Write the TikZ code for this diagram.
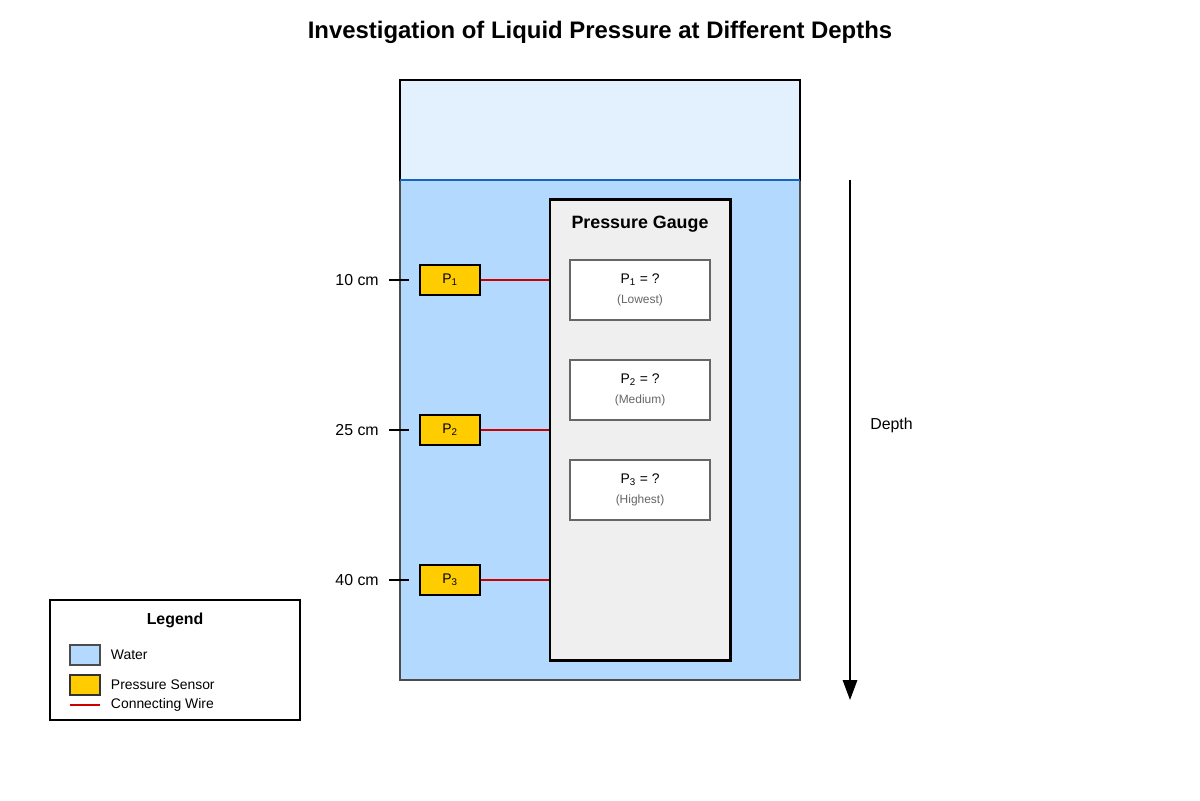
\documentclass[tikz,border=0pt]{standalone}
\usepackage{fontspec}
\setmainfont{Liberation Sans}
\usepackage{tikz}
\usetikzlibrary{arrows.meta}

\definecolor{airblue}{HTML}{E3F0FD}
\definecolor{waterblue}{HTML}{B3D9FF}
\definecolor{surfblue}{HTML}{1565C0}
\definecolor{gaugegray}{HTML}{EFEFEF}
\definecolor{sensoryellow}{HTML}{FFCC00}
\definecolor{wirered}{HTML}{CC0000}
\definecolor{notegray}{HTML}{666666}

\begin{document}
\begin{tikzpicture}[x=0.025cm,y=-0.025cm,
    sensor/.style={draw=black,line width=1.4pt,fill=sensoryellow,
        minimum width=1.5cm,minimum height=0.75cm,inner sep=0pt,font=\fontsize{9.9}{11}\selectfont},
    readout/.style={draw=notegray,line width=1pt,fill=white,
        minimum width=3.5cm,minimum height=1.5cm,inner sep=0pt,align=center,
        font=\fontsize{9.9}{14}\selectfont},
    wire/.style={wirered,line width=1.4pt},
    tick/.style={black,line width=1.4pt},
    depthlabel/.style={anchor=east,inner sep=0pt,font=\fontsize{11.3}{13}\selectfont}]
    \useasboundingbox (0,0) rectangle (1200,800);

    % title
    \node[font=\bfseries\fontsize{17}{20}\selectfont] (title) at (600,32)
        {Investigation of Liquid Pressure at Different Depths};

    % tank: water, then air above it
    \filldraw[fill=waterblue,draw=black!70,line width=0.8pt] (400,180) rectangle (800,680);
    \filldraw[fill=airblue,draw=black,line width=2.1pt] (400,80) rectangle (800,180);
    \draw[surfblue,line width=1.4pt] (400,180) -- (800,180);

    % gauge
    \node[draw=black,line width=2.1pt,fill=gaugegray,minimum width=4.5cm,
        minimum height=11.5cm,inner sep=0pt] (gauge) at (640,430) {};
    \node[font=\bfseries\fontsize{12.7}{15}\selectfont] (gaugetitle) at (640,224) {Pressure Gauge};
    \node[readout] (r1) at (640,290) {P\textsubscript{1} = ?\\{\color{notegray}\fontsize{8.5}{10}\selectfont(Lowest)}};
    \node[readout] (r2) at (640,390) {P\textsubscript{2} = ?\\{\color{notegray}\fontsize{8.5}{10}\selectfont(Medium)}};
    \node[readout] (r3) at (640,490) {P\textsubscript{3} = ?\\{\color{notegray}\fontsize{8.5}{10}\selectfont(Highest)}};

    % sensors, depth ticks and wires
    \node[sensor] (s1) at (450,280) {P\textsubscript{1}};
    \node[sensor] (s2) at (450,430) {P\textsubscript{2}};
    \node[sensor] (s3) at (450,580) {P\textsubscript{3}};
    \foreach \i/\d in {1/10,2/25,3/40} {
        \coordinate (t\i) at ([xshift=-0.25cm]s\i.west);
        \draw[tick] (t\i) -- ([xshift=-0.75cm]s\i.west);
        \node[depthlabel] (d\i) at ([xshift=-0.75cm]t\i) {\d\ cm};
        \draw[wire] (s\i.east) -- (s\i.east -| gauge.west);
    }

    % depth arrow
    \coordinate (dtop) at (850,180);
    \coordinate (dbot) at (850,700);
    \draw[line width=1.4pt,-{Triangle[length=0.5cm,width=0.36cm]}] (dtop) -- (dbot);
    \node[anchor=west,inner sep=0pt,font=\fontsize{11.3}{13}\selectfont] (depth) at (870,425) {Depth};

    % legend
    \node[draw=black,line width=1.4pt,fill=white,minimum width=6.25cm,
        minimum height=3cm,inner sep=0pt] (legend) at (175,660) {};
    \node[font=\bfseries\fontsize{11.3}{13}\selectfont] (legtitle) at (175,620) {Legend};
    \filldraw[fill=waterblue,draw=black!70,line width=0.8pt] (70,645) rectangle (100,665);
    \node[anchor=west,font=\fontsize{9.9}{12}\selectfont] (legwater) at (106,655) {Water};
    \filldraw[fill=sensoryellow,draw=black!80,line width=0.8pt] (70,675) rectangle (100,695);
    \node[anchor=west,font=\fontsize{9.9}{12}\selectfont] (legsensor) at (106,685) {Pressure Sensor};
    \draw[wire,line width=1pt] (70,705) -- (100,705);
    \node[anchor=west,font=\fontsize{9.9}{12}\selectfont] (legwire) at (106,705) {Connecting Wire};
\end{tikzpicture}
\end{document}
